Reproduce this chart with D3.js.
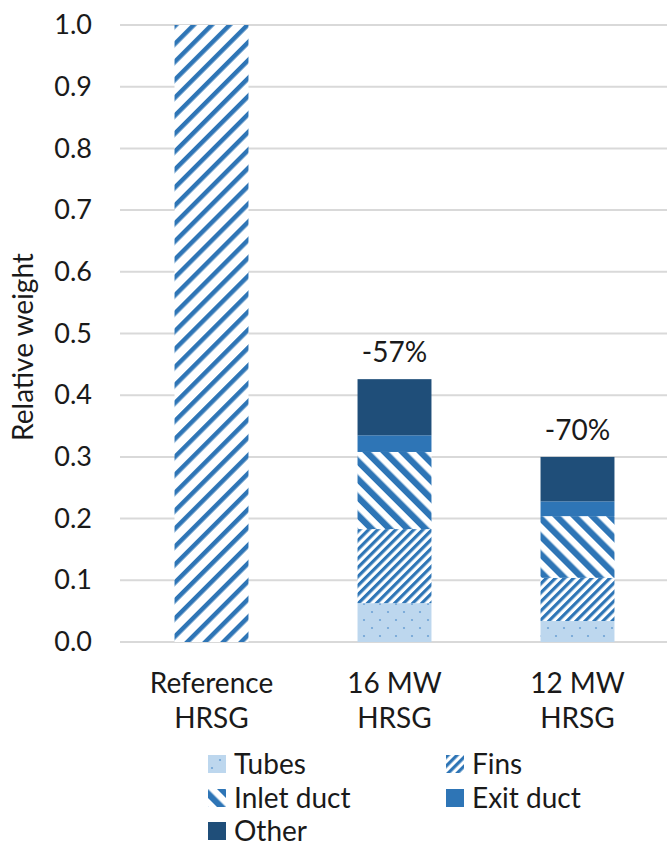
<!DOCTYPE html>
<html>
<head>
<meta charset="utf-8">
<script src="https://cdn.jsdelivr.net/npm/d3@7"></script>
<style>
  body { margin: 0; background: #fff; }
  svg text { font-family: "Lato", "Open Sans", sans-serif; fill: #1a1a1a; }
</style>
</head>
<body>
<div id="chart"></div>
<script>
// data
const categories = ["Reference HRSG", "16 MW HRSG", "12 MW HRSG"];
const seriesNames = ["Tubes", "Fins", "Inlet duct", "Exit duct", "Other"];
const referenceTotal = [1.0, 0, 0];
const tubes = [0, 0.063, 0.034];
const fins = [0, 0.120, 0.070];
const inletDuct = [0, 0.125, 0.100];
const exitDuct = [0, 0.027, 0.024];
const other = [0, 0.091, 0.072];
const changeLabels = ["", "-57%", "-70%"];
const yTicks = [0, 0.1, 0.2, 0.3, 0.4, 0.5, 0.6, 0.7, 0.8, 0.9, 1.0];

const width = 667, height = 846;
const blue = "#2e75b6", navy = "#1f4e79";

const svg = d3.select("#chart").append("svg")
    .attr("width", width)
    .attr("height", height);

// fill patterns
const defs = svg.append("defs");

function stripes(id, period, thick, angle, bg) {
    const p = defs.append("pattern")
        .attr("id", id)
        .attr("patternUnits", "userSpaceOnUse")
        .attr("width", period)
        .attr("height", period)
        .attr("patternTransform", `rotate(${angle})`);
    p.append("rect").attr("width", period).attr("height", period).attr("fill", bg || "#fff");
    p.append("rect").attr("width", thick).attr("height", period).attr("fill", blue);
}
stripes("pat-ref", 12.7, 4.5, 45);
stripes("pat-fins", 6.4, 3.2, 45);
stripes("pat-inlet", 12.7, 6.3, -45);

const dots = defs.append("pattern")
    .attr("id", "pat-tubes")
    .attr("patternUnits", "userSpaceOnUse")
    .attr("width", 16)
    .attr("height", 16);
dots.append("rect").attr("width", 16).attr("height", 16).attr("fill", "#bdd7ee");
dots.append("circle").attr("cx", 4).attr("cy", 4).attr("r", 1.1).attr("fill", "#6fa3d6");
dots.append("circle").attr("cx", 12).attr("cy", 12).attr("r", 1.1).attr("fill", "#6fa3d6");

const fills = {
    "Reference": "url(#pat-ref)",
    "Tubes": "url(#pat-tubes)",
    "Fins": "url(#pat-fins)",
    "Inlet duct": "url(#pat-inlet)",
    "Exit duct": blue,
    "Other": navy
};

// table for the stack
const table = categories.map((c, i) => ({
    category: c,
    "Reference": referenceTotal[i],
    "Tubes": tubes[i],
    "Fins": fins[i],
    "Inlet duct": inletDuct[i],
    "Exit duct": exitDuct[i],
    "Other": other[i]
}));
const keys = ["Reference"].concat(seriesNames);
const stacked = d3.stack().keys(keys)(table);

// scales
const x = d3.scaleBand()
    .domain(categories)
    .range([120, 669])
    .paddingInner(0.596)
    .paddingOuter(0.298);

const y = d3.scaleLinear()
    .domain([0, 1])
    .range([642, 25]);

// gridlines
svg.append("g")
    .attr("class", "grid")
    .selectAll("line")
    .data(yTicks)
    .join("line")
    .attr("x1", 120)
    .attr("x2", 667)
    .attr("y1", d => y(d))
    .attr("y2", d => y(d))
    .attr("stroke", "#d9d9d9")
    .attr("stroke-width", 2);

// y axis labels
const yAxis = svg.append("g")
    .attr("transform", "translate(120,0)")
    .call(d3.axisLeft(y).tickValues(yTicks).tickFormat(d3.format(".1f")).tickSize(0).tickPadding(28));
yAxis.select(".domain").remove();
yAxis.selectAll("text")
    .style("font-size", "27px")
    .style("font-family", "Lato, 'Open Sans', sans-serif")
    .attr("fill", "#1a1a1a");

// bars
svg.append("g")
    .selectAll("g")
    .data(stacked)
    .join("g")
    .attr("fill", d => fills[d.key])
    .selectAll("rect")
    .data(d => d.filter(s => s[1] - s[0] > 0))
    .join("rect")
    .attr("x", d => x(d.data.category))
    .attr("width", x.bandwidth())
    .attr("y", d => y(d[1]))
    .attr("height", d => y(d[0]) - y(d[1]));

// change labels above bars
const totals = table.map((d, i) => tubes[i] + fins[i] + inletDuct[i] + exitDuct[i] + other[i]);
svg.append("g")
    .selectAll("text")
    .data(categories)
    .join("text")
    .attr("x", d => x(d) + x.bandwidth() / 2)
    .attr("y", (d, i) => y(totals[i]) - 17)
    .attr("text-anchor", "middle")
    .style("font-size", "28px")
    .text((d, i) => changeLabels[i]);

// category labels, two lines each
const catLabels = svg.append("g")
    .selectAll("text")
    .data(categories)
    .join("text")
    .attr("x", d => x(d) + x.bandwidth() / 2)
    .attr("y", 693)
    .attr("text-anchor", "middle")
    .style("font-size", "28px");
catLabels.each(function(d) {
    const parts = d.split(" ");
    const lines = [parts.slice(0, -1).join(" "), parts[parts.length - 1]];
    const cx = x(d) + x.bandwidth() / 2;
    d3.select(this).selectAll("tspan")
        .data(lines)
        .join("tspan")
        .attr("x", cx)
        .attr("dy", (l, i) => i === 0 ? 0 : 35)
        .text(l => l);
});

// y axis title
svg.append("text")
    .attr("transform", "rotate(-90)")
    .attr("x", -347)
    .attr("y", 33)
    .attr("text-anchor", "middle")
    .style("font-size", "28px")
    .text("Relative weight");

// legend
const legendPos = [
    {x: 208, y: 764}, {x: 446, y: 764},
    {x: 208, y: 798}, {x: 446, y: 798},
    {x: 208, y: 831}
];
const legend = svg.append("g")
    .selectAll("g")
    .data(seriesNames)
    .join("g")
    .attr("transform", (d, i) => `translate(${legendPos[i].x},${legendPos[i].y})`);
legend.append("rect")
    .attr("x", 0)
    .attr("y", -9)
    .attr("width", 18)
    .attr("height", 18)
    .attr("fill", d => fills[d]);
legend.append("text")
    .attr("x", 26)
    .attr("y", 10)
    .style("font-size", "28px")
    .text(d => d);
</script>
</body>
</html>
